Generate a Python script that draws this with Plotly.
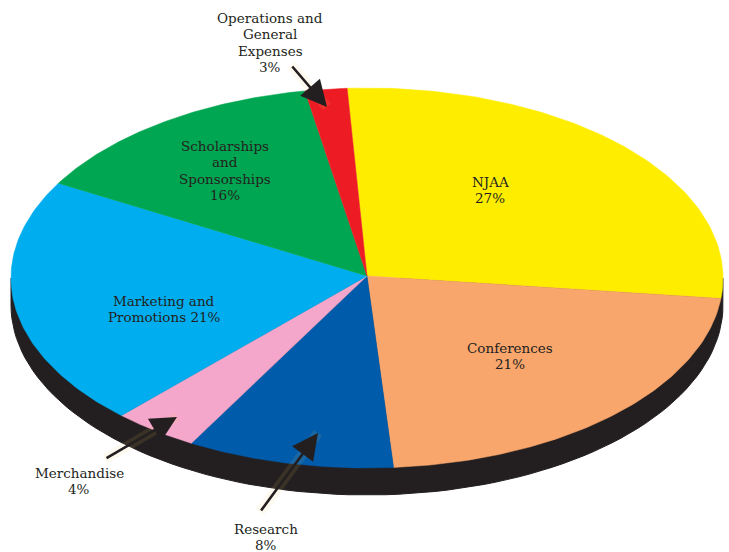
"""Budget pie, drawn as a tilted elliptical disc (Plotly's own pie can only be round)."""

import numpy as np
import plotly.graph_objects as go

# clockwise from the top of the disc
categories = ["NJAA", "Conferences", "Research", "Merchandise",
              "Marketing and Promotions", "Scholarships and Sponsorships",
              "Operations and General Expenses"]
printed_pct = [27, 21, 8, 4, 21, 16, 3]
# the slices as drawn are a little off the printed numbers, so read these separately
drawn_share = [27.6, 22.1, 9.4, 3.9, 21.2, 13.9, 1.9]
colors = ["#FFED00", "#F9A66C", "#005BAA", "#F4A6CB", "#00AEEF", "#00A651", "#ED1C24"]

labels = [["NJAA", "27%"], ["Conferences", "21%"], ["Research", "8%"], ["Merchandise", "4%"],
          ["Marketing and", "Promotions 21%"], ["Scholarships", "and", "Sponsorships", "16%"],
          ["Operations and", "General", "Expenses", "3%"]]
label_x = [490, 510, 266, 79, 164, 225, 270]
label_first_y = [182, 348, 529, 473, 301, 146, 18]

# arrows only on the slices labelled outside the disc
arrow_tail_x = [291, 105, 260]
arrow_tail_y = [65, 459, 512]
arrow_tip_x = [327, 177, 318]
arrow_tip_y = [107, 417, 433]

CX, CY = 367, 278
RX, RY = 356, 190
DEPTH = 27
START_DEG = -3.2
LINE_GAP = 16.4
TEXT = "#231F20"


def rim(deg_from, deg_to, dy=0):
    t = np.radians(np.linspace(deg_from, deg_to, 90))
    return CX + RX * np.sin(t), CY + dy - RY * np.cos(t)


fig = go.Figure()

# side wall of the disc
x, y = rim(90, 270, DEPTH)
fig.add_trace(go.Scatter(x=np.r_[x[0], x, x[-1]], y=np.r_[CY, y, CY], mode="lines",
                         fill="toself", fillcolor="#231F20",
                         line=dict(color="#231F20", width=1), hoverinfo="skip"))

edges = START_DEG + 360 * np.cumsum([0] + drawn_share) / sum(drawn_share)
for i, name in enumerate(categories):
    x, y = rim(edges[i], edges[i + 1])
    fig.add_trace(go.Scatter(x=np.r_[CX, x, CX], y=np.r_[CY - 2, y, CY - 2], mode="lines",
                             fill="toself", fillcolor=colors[i],
                             line=dict(color=colors[i], width=0.5),
                             name=name, text=f"{name}: {printed_pct[i]}%", hoverinfo="text"))

# soft yellow glow behind each arrow
for x0, y0, x1, y1 in zip(arrow_tail_x, arrow_tail_y, arrow_tip_x, arrow_tip_y):
    fig.add_trace(go.Scatter(x=[x0, x1], y=[y0, y1], mode="lines", opacity=0.1,
                             line=dict(color="#FFD66B", width=10), hoverinfo="skip"))

for lines, x, y0 in zip(labels, label_x, label_first_y):
    for n, txt in enumerate(lines):
        fig.add_annotation(x=x, y=y0 + n * LINE_GAP, text=txt, showarrow=False,
                           xanchor="center", yanchor="middle",
                           font=dict(family="DejaVu Serif", size=13.5, color=TEXT))

for x0, y0, x1, y1 in zip(arrow_tail_x, arrow_tail_y, arrow_tip_x, arrow_tip_y):
    fig.add_annotation(x=x1, y=y1, ax=x0, ay=y0, axref="x", ayref="y", text="", showarrow=True,
                       arrowhead=2, arrowsize=2, arrowwidth=2.6, arrowcolor=TEXT)

fig.update_layout(width=729, height=552, margin=dict(l=0, r=0, t=0, b=0),
                  paper_bgcolor="white", plot_bgcolor="white", showlegend=False)
fig.update_xaxes(range=[0, 729], visible=False)
fig.update_yaxes(range=[552, 0], visible=False)

fig.write_html("out.html", config={"displayModeBar": False},
               post_script="document.body.style.margin='0';")
